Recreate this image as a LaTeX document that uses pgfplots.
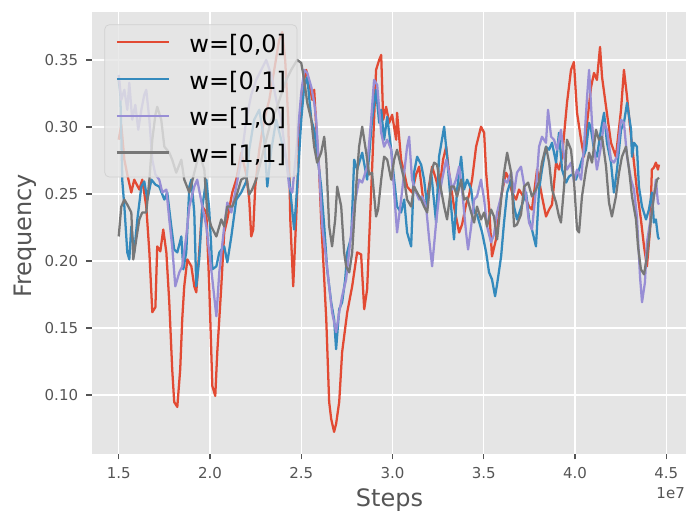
\documentclass[border=0pt]{standalone}
\usepackage{fontspec}
\setmainfont{DejaVu Sans}
\usepackage{pgfplots}
\usepackage{pgfplotstable}
\pgfplotsset{compat=1.18}
\definecolor{ggred}{HTML}{E24A33}
\definecolor{ggblue}{HTML}{348ABD}
\definecolor{ggpurple}{HTML}{988ED5}
\definecolor{gggray}{HTML}{777777}
\definecolor{ggbg}{HTML}{E5E5E5}
\definecolor{tickc}{HTML}{555555}
\definecolor{legedge}{HTML}{D1D1D1}

\pgfplotstableread{
x y
1.500 0.2905
1.514 0.3017
1.531 0.2756
1.547 0.2645
1.569 0.2511
1.585 0.2607
1.613 0.2533
1.629 0.2607
1.651 0.2406
1.668 0.2064
1.684 0.1618
1.701 0.1655
1.711 0.2109
1.728 0.2072
1.744 0.2235
1.761 0.2064
1.777 0.1692
1.793 0.1194
1.804 0.0948
1.821 0.0911
1.837 0.1194
1.848 0.1566
1.859 0.1811
1.876 0.2012
1.898 0.1960
1.914 0.1811
1.925 0.1766
1.941 0.2064
1.958 0.2406
1.980 0.2362
1.996 0.1811
2.013 0.1067
2.029 0.0993
2.040 0.1320
2.062 0.1811
2.078 0.2213
2.095 0.2310
2.122 0.2511
2.144 0.2607
2.171 0.2808
2.199 0.2645
2.215 0.2458
2.226 0.2183
2.237 0.2235
2.248 0.2555
2.270 0.2830
2.297 0.3054
2.325 0.3202
2.352 0.3426
2.379 0.3649
2.396 0.3708
2.412 0.3500
2.429 0.3054
2.440 0.2310
2.456 0.1811
2.472 0.2310
2.489 0.2905
2.505 0.3277
2.527 0.3426
2.544 0.3329
2.560 0.3202
2.571 0.3277
2.582 0.3002
2.598 0.2682
2.609 0.2310
2.626 0.1863
2.637 0.1566
2.653 0.0948
2.664 0.0822
2.680 0.0725
2.691 0.0785
2.708 0.0948
2.724 0.1320
2.752 0.1618
2.779 0.1811
2.806 0.2064
2.828 0.2049
2.845 0.1640
2.861 0.1789
2.888 0.2682
2.910 0.3426
2.927 0.3500
2.938 0.3537
2.949 0.3054
2.965 0.3150
2.982 0.3031
2.998 0.3091
3.020 0.2905
3.025 0.3106
3.047 0.2756
3.064 0.2659
3.080 0.2555
3.107 0.2511
3.129 0.2645
3.146 0.2704
3.168 0.2458
3.184 0.2406
3.201 0.2570
3.217 0.2704
3.239 0.2607
3.255 0.2511
3.277 0.2756
3.294 0.2853
3.310 0.2659
3.337 0.2406
3.365 0.2213
3.381 0.2272
3.403 0.2421
3.420 0.2496
3.436 0.2607
3.458 0.2853
3.485 0.3002
3.502 0.2957
3.513 0.2659
3.529 0.2406
3.545 0.2034
3.567 0.2161
3.595 0.2481
3.622 0.2659
3.639 0.2607
3.655 0.2511
3.677 0.2458
3.693 0.2533
3.710 0.2496
3.732 0.2458
3.748 0.2406
3.764 0.2384
3.792 0.2682
3.819 0.2481
3.841 0.2332
3.858 0.2384
3.874 0.2421
3.896 0.2734
3.912 0.2682
3.929 0.2778
3.956 0.3180
3.978 0.3426
3.994 0.3485
4.011 0.3106
4.033 0.2905
4.049 0.2778
4.066 0.3031
4.088 0.3299
4.104 0.3403
4.120 0.3351
4.137 0.3597
4.148 0.3373
4.170 0.3150
4.197 0.2882
4.224 0.2778
4.252 0.3128
4.268 0.3426
4.285 0.3225
4.307 0.2927
4.323 0.2734
4.339 0.2533
4.361 0.2310
4.378 0.2109
4.394 0.1960
4.411 0.2235
4.421 0.2682
4.432 0.2697
4.443 0.2734
4.454 0.2682
4.460 0.2719
}\dataA

\pgfplotstableread{
x y
1.500 0.3351
1.509 0.3240
1.520 0.2593
1.531 0.2406
1.547 0.2064
1.558 0.2012
1.569 0.2258
1.585 0.2064
1.602 0.2310
1.624 0.2555
1.640 0.2593
1.657 0.2458
1.679 0.2607
1.701 0.2570
1.722 0.2555
1.750 0.2458
1.766 0.2511
1.788 0.2258
1.804 0.2086
1.821 0.2064
1.843 0.2183
1.854 0.1938
1.870 0.2064
1.887 0.2555
1.898 0.2607
1.914 0.2362
1.925 0.1811
1.941 0.2012
1.958 0.2406
1.980 0.2607
1.996 0.2384
2.013 0.1938
2.035 0.1960
2.051 0.2064
2.078 0.2109
2.095 0.1990
2.117 0.2183
2.144 0.2458
2.171 0.2511
2.199 0.2593
2.215 0.2830
2.242 0.3054
2.270 0.3128
2.297 0.2905
2.314 0.2555
2.336 0.2830
2.363 0.3054
2.390 0.2905
2.418 0.2756
2.434 0.2607
2.461 0.2235
2.478 0.2555
2.500 0.3054
2.516 0.3299
2.533 0.3373
2.555 0.3054
2.571 0.2979
2.587 0.2808
2.609 0.2555
2.626 0.2258
2.642 0.1938
2.664 0.1692
2.680 0.1566
2.691 0.1342
2.708 0.1640
2.724 0.1692
2.741 0.1863
2.752 0.2064
2.774 0.2183
2.790 0.2756
2.806 0.2682
2.834 0.2808
2.861 0.2607
2.888 0.3054
2.910 0.3277
2.927 0.3031
2.938 0.3128
2.954 0.2905
2.971 0.3076
2.993 0.2830
3.009 0.2607
3.025 0.2406
3.047 0.2362
3.064 0.2458
3.080 0.2213
3.102 0.2109
3.118 0.2659
3.135 0.2778
3.157 0.2719
3.173 0.2607
3.190 0.2406
3.212 0.2659
3.239 0.2287
3.255 0.2778
3.283 0.3002
3.299 0.2778
3.321 0.2406
3.337 0.2161
3.354 0.2533
3.376 0.2778
3.392 0.2533
3.409 0.2607
3.431 0.2533
3.447 0.2362
3.463 0.2347
3.491 0.2213
3.513 0.2064
3.529 0.1915
3.545 0.1863
3.562 0.1737
3.573 0.1826
3.595 0.2034
3.611 0.2287
3.628 0.2511
3.650 0.2607
3.666 0.2406
3.682 0.2310
3.710 0.2421
3.732 0.2511
3.748 0.2310
3.764 0.2235
3.786 0.2109
3.803 0.2533
3.819 0.2682
3.841 0.2853
3.858 0.2830
3.874 0.2882
3.896 0.2734
3.912 0.2957
3.929 0.2682
3.951 0.2585
3.967 0.2630
3.983 0.2645
4.005 0.2607
4.022 0.2682
4.038 0.2756
4.060 0.2830
4.077 0.3031
4.088 0.2979
4.104 0.2830
4.120 0.2778
4.142 0.2979
4.159 0.3106
4.175 0.2882
4.197 0.2734
4.213 0.2511
4.230 0.2682
4.252 0.2979
4.268 0.3031
4.285 0.3180
4.307 0.2979
4.312 0.2778
4.323 0.2882
4.339 0.2853
4.350 0.2555
4.367 0.2406
4.389 0.2310
4.405 0.2384
4.421 0.2511
4.432 0.2287
4.443 0.2310
4.454 0.2183
4.460 0.2161
}\dataB

\pgfplotstableread{
x y
1.500 0.3388
1.514 0.3202
1.531 0.3277
1.547 0.3128
1.558 0.3329
1.574 0.3054
1.591 0.3165
1.607 0.2979
1.624 0.3128
1.640 0.3240
1.651 0.3277
1.668 0.3054
1.684 0.2756
1.701 0.2645
1.722 0.2607
1.739 0.2511
1.761 0.2533
1.777 0.2310
1.793 0.2109
1.810 0.1811
1.832 0.1915
1.848 0.1960
1.870 0.2183
1.887 0.2406
1.914 0.2555
1.930 0.2607
1.958 0.2406
1.980 0.2258
1.996 0.2064
2.013 0.1863
2.035 0.1588
2.051 0.1915
2.078 0.2258
2.095 0.2436
2.117 0.2362
2.144 0.2555
2.171 0.2756
2.199 0.3054
2.226 0.3240
2.253 0.3351
2.281 0.3426
2.308 0.3500
2.336 0.3388
2.363 0.3202
2.390 0.3054
2.418 0.2756
2.434 0.2555
2.451 0.2511
2.472 0.2808
2.500 0.3254
2.516 0.3426
2.533 0.3403
2.555 0.3299
2.571 0.3180
2.582 0.3054
2.598 0.2682
2.615 0.2258
2.637 0.2012
2.653 0.1811
2.669 0.1618
2.691 0.1469
2.708 0.1618
2.724 0.1737
2.746 0.1863
2.774 0.2213
2.790 0.2406
2.817 0.2607
2.834 0.2585
2.861 0.2704
2.883 0.3054
2.899 0.3351
2.916 0.3314
2.938 0.2957
2.954 0.2853
2.971 0.2905
2.993 0.2830
3.009 0.2511
3.025 0.2213
3.047 0.2458
3.064 0.2659
3.080 0.2853
3.091 0.2927
3.107 0.2607
3.129 0.2511
3.146 0.2458
3.162 0.2481
3.184 0.2406
3.201 0.2161
3.217 0.1960
3.239 0.2287
3.255 0.2481
3.272 0.2607
3.294 0.2756
3.310 0.2659
3.327 0.2533
3.348 0.2607
3.365 0.2704
3.381 0.2533
3.403 0.2213
3.414 0.2086
3.431 0.2258
3.447 0.2458
3.463 0.2481
3.485 0.2607
3.502 0.2458
3.518 0.2258
3.540 0.2139
3.556 0.2198
3.573 0.2362
3.595 0.2481
3.611 0.2607
3.628 0.2585
3.650 0.2659
3.666 0.2511
3.682 0.2659
3.704 0.2704
3.732 0.2481
3.748 0.2287
3.764 0.2235
3.786 0.2533
3.803 0.2853
3.819 0.2927
3.841 0.2882
3.852 0.3128
3.869 0.2927
3.885 0.2905
3.901 0.2830
3.923 0.2979
3.940 0.2778
3.956 0.2682
3.978 0.2734
3.994 0.2593
4.011 0.2682
4.033 0.2607
4.049 0.2853
4.066 0.3225
4.077 0.3426
4.093 0.3031
4.104 0.2853
4.120 0.2682
4.142 0.2853
4.159 0.3031
4.175 0.2979
4.197 0.2756
4.213 0.2734
4.230 0.2778
4.252 0.3054
4.268 0.3031
4.285 0.2778
4.307 0.2607
4.323 0.2533
4.339 0.2332
4.356 0.1885
4.367 0.1692
4.383 0.1841
4.394 0.2139
4.416 0.2332
4.432 0.2481
4.443 0.2607
4.454 0.2436
4.460 0.2421
}\dataC

\pgfplotstableread{
x y
1.500 0.2183
1.514 0.2406
1.531 0.2458
1.547 0.2421
1.569 0.2362
1.580 0.2012
1.596 0.2161
1.613 0.2310
1.629 0.2362
1.651 0.2362
1.668 0.2607
1.684 0.2905
1.701 0.3091
1.711 0.3150
1.733 0.3054
1.750 0.2853
1.777 0.2808
1.793 0.2756
1.815 0.2659
1.843 0.2756
1.859 0.2607
1.887 0.2511
1.914 0.2659
1.941 0.2808
1.969 0.2682
1.985 0.2362
2.007 0.2258
2.035 0.2183
2.062 0.2310
2.078 0.2258
2.095 0.2406
2.122 0.2406
2.144 0.2481
2.171 0.2607
2.199 0.2630
2.215 0.2496
2.231 0.2533
2.253 0.2607
2.281 0.2756
2.308 0.2905
2.336 0.3054
2.363 0.3128
2.390 0.3240
2.418 0.3351
2.445 0.3426
2.478 0.3500
2.500 0.3478
2.516 0.3351
2.533 0.3180
2.555 0.3054
2.571 0.2853
2.587 0.2734
2.609 0.2808
2.626 0.2927
2.637 0.2756
2.653 0.2258
2.669 0.2109
2.686 0.2310
2.697 0.2555
2.719 0.2406
2.735 0.2064
2.746 0.1960
2.763 0.1915
2.779 0.2064
2.801 0.2555
2.817 0.2853
2.834 0.3002
2.856 0.2808
2.872 0.2645
2.888 0.2659
2.910 0.2332
2.921 0.2384
2.938 0.2607
2.954 0.2778
2.971 0.2756
2.993 0.2607
3.009 0.2756
3.025 0.2830
3.047 0.2704
3.064 0.2607
3.080 0.2458
3.102 0.2406
3.118 0.2555
3.135 0.2511
3.157 0.2458
3.173 0.2406
3.190 0.2362
3.212 0.2659
3.228 0.2734
3.244 0.2719
3.266 0.2533
3.283 0.2406
3.299 0.2310
3.321 0.2555
3.337 0.2555
3.354 0.2481
3.376 0.2607
3.392 0.2458
3.409 0.2473
3.431 0.2362
3.447 0.2287
3.463 0.2406
3.485 0.2310
3.502 0.2362
3.518 0.2258
3.540 0.2384
3.556 0.2332
3.573 0.2161
3.595 0.2458
3.611 0.2659
3.628 0.2808
3.650 0.2659
3.666 0.2258
3.682 0.2272
3.704 0.2347
3.721 0.2555
3.743 0.2585
3.764 0.2481
3.786 0.2533
3.803 0.2593
3.819 0.2734
3.841 0.2853
3.858 0.2734
3.874 0.2533
3.896 0.2436
3.912 0.2332
3.923 0.2287
3.940 0.2555
3.956 0.2905
3.978 0.2830
3.994 0.2607
4.011 0.2235
4.022 0.2213
4.038 0.2481
4.060 0.2682
4.077 0.2808
4.093 0.2734
4.115 0.2979
4.131 0.2905
4.148 0.2927
4.170 0.2704
4.186 0.2436
4.202 0.2332
4.224 0.2481
4.241 0.2659
4.257 0.2778
4.279 0.2853
4.296 0.2682
4.312 0.2481
4.334 0.2310
4.345 0.2109
4.361 0.1938
4.378 0.1900
4.394 0.2034
4.416 0.2310
4.432 0.2481
4.449 0.2607
4.460 0.2622
}\dataD

\begin{document}
\begin{tikzpicture}
\path[use as bounding box] (0,0) rectangle (698bp,524bp);
\begin{axis}[
  at={(91.7bp,70bp)}, anchor=south west,
  scale only axis, width=594.3bp, height=442.3bp,
  xmin=1.352, xmax=4.608, ymin=0.056, ymax=0.386,
  clip mode=individual,
  axis background/.style={fill=ggbg},
  axis line style={draw=none},
  grid=major,
  major grid style={white, line width=1.2bp},
  xtick={1.5,2,2.5,3,3.5,4,4.5},
  xticklabels={1.5,2.0,2.5,3.0,3.5,4.0,4.5},
  ytick={0.10,0.15,0.20,0.25,0.30,0.35},
  yticklabels={0.10,0.15,0.20,0.25,0.30,0.35},
  xtick pos=bottom, ytick pos=left,
  tick align=outside,
  major tick length=5.3bp,
  every tick/.style={tickc, line width=1.2bp},
  ticklabel style={font=\fontsize{15bp}{18bp}\selectfont, text=tickc, inner sep=0pt},
  xticklabel style={anchor=north},
  yticklabel style={anchor=east},
  xticklabel shift=7.7bp,
  yticklabel shift=8.1bp,
  xlabel={Steps}, ylabel={Frequency},
  label style={font=\fontsize{24bp}{28bp}\selectfont, text=tickc, inner sep=0pt},
  xlabel style={at={(axis description cs:0.501,-0.1191)}, anchor=base},
  ylabel style={at={(axis description cs:-0.1013,0.4931)}, anchor=base},
  legend image code/.code={\draw[#1] (0bp,10bp) -- (52bp,10bp);},
  legend cell align=left,
  legend style={at={(axis description cs:0,1)}, anchor=north west,
    xshift=12.6bp, yshift=-12.6bp,
    fill=ggbg, fill opacity=0.8, text opacity=1, draw=legedge,
    rounded corners=4.8bp, line width=0.76bp,
    inner xsep=11bp, inner ysep=9.65bp,
    font=\fontsize{24bp}{28bp}\selectfont,
    row sep=13.7bp, column sep=19.5bp,
    nodes={inner sep=0pt, text height=18bp, text depth=5bp, anchor=base west}},
  every axis plot/.append style={line width=2.27bp, line join=round},
]
\addplot[ggred] table {\dataA};
\addlegendentry{{w=[0,0]}}
\addplot[ggblue] table {\dataB};
\addlegendentry{{w=[0,1]}}
\addplot[ggpurple] table {\dataC};
\addlegendentry{{w=[1,0]}}
\addplot[gggray] table {\dataD};
\addlegendentry{{w=[1,1]}}
\node[anchor=base east, inner sep=0pt, text=tickc, font=\fontsize{15bp}{18bp}\selectfont] at (axis description cs:0.9983,-0.0995) {1e7};
\end{axis}
\end{tikzpicture}
\end{document}
